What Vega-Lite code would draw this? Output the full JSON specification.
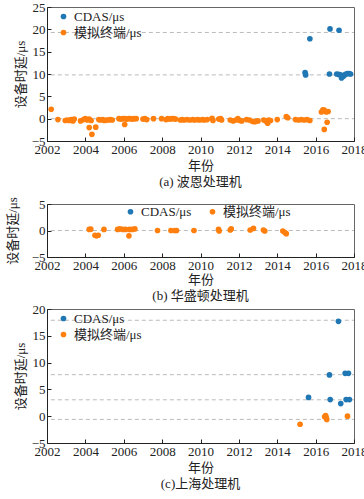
{
  "$schema": "https://vega.github.io/schema/vega-lite/v6.json",
  "background": "white",
  "padding": {"left": 5, "top": 0, "right": 3, "bottom": 5},
  "spacing": 6,
  "config": {
    "font": "Liberation Serif, Noto Serif CJK SC, Noto Sans CJK SC, serif",
    "view": {"stroke": "#666666", "strokeWidth": 1},
    "axis": {
      "labelFont": "Liberation Serif",
      "labelFontSize": 13,
      "labelColor": "#222222",
      "labelOverlap": false,
      "labelBound": false,
      "labelFlush": false,
      "titleFont": "Liberation Serif, Noto Sans CJK SC, serif",
      "titleFontSize": 13,
      "titleFontWeight": "normal",
      "titleColor": "#222222",
      "domainColor": "#222222",
      "tickColor": "#222222",
      "tickSize": -4,
      "labelPadding": 6,
      "grid": false
    },
    "legend": {
      "labelFont": "Liberation Serif, Noto Sans CJK SC, serif",
      "labelFontSize": 13,
      "labelColor": "#222222",
      "symbolType": "circle",
      "symbolSize": 32,
      "symbolStrokeWidth": 0,
      "title": null,
      "rowPadding": 2
    },
    "title": {
      "font": "Liberation Serif, Noto Sans CJK SC, serif",
      "fontSize": 13,
      "fontWeight": "normal",
      "color": "#222222",
      "orient": "bottom",
      "offset": 4
    }
  },
  "datasets": {
    "a": [
      {"year": 2002.22, "delay": 2.1, "series": "模拟终端/μs"},
      {"year": 2002.57, "delay": -0.2, "series": "模拟终端/μs"},
      {"year": 2002.95, "delay": -0.4, "series": "模拟终端/μs"},
      {"year": 2003.05, "delay": -0.3, "series": "模拟终端/μs"},
      {"year": 2003.15, "delay": -0.4, "series": "模拟终端/μs"},
      {"year": 2003.25, "delay": -0.2, "series": "模拟终端/μs"},
      {"year": 2003.35, "delay": -0.5, "series": "模拟终端/μs"},
      {"year": 2003.42, "delay": -0.1, "series": "模拟终端/μs"},
      {"year": 2003.75, "delay": -0.5, "series": "模拟终端/μs"},
      {"year": 2003.9, "delay": -0.2, "series": "模拟终端/μs"},
      {"year": 2004.0, "delay": 0.0, "series": "模拟终端/μs"},
      {"year": 2004.1, "delay": -0.3, "series": "模拟终端/μs"},
      {"year": 2004.2, "delay": -0.1, "series": "模拟终端/μs"},
      {"year": 2004.3, "delay": -0.4, "series": "模拟终端/μs"},
      {"year": 2004.2, "delay": -2.0, "series": "模拟终端/μs"},
      {"year": 2004.34, "delay": -3.5, "series": "模拟终端/μs"},
      {"year": 2004.54, "delay": -1.9, "series": "模拟终端/μs"},
      {"year": 2004.7, "delay": -0.2, "series": "模拟终端/μs"},
      {"year": 2004.8, "delay": -0.3, "series": "模拟终端/μs"},
      {"year": 2004.9, "delay": -0.2, "series": "模拟终端/μs"},
      {"year": 2005.0, "delay": -0.4, "series": "模拟终端/μs"},
      {"year": 2005.1, "delay": -0.3, "series": "模拟终端/μs"},
      {"year": 2005.2, "delay": -0.3, "series": "模拟终端/μs"},
      {"year": 2005.3, "delay": -0.2, "series": "模拟终端/μs"},
      {"year": 2005.4, "delay": -0.3, "series": "模拟终端/μs"},
      {"year": 2005.75, "delay": 0.0, "series": "模拟终端/μs"},
      {"year": 2005.85, "delay": -0.1, "series": "模拟终端/μs"},
      {"year": 2005.95, "delay": 0.0, "series": "模拟终端/μs"},
      {"year": 2006.05, "delay": -1.3, "series": "模拟终端/μs"},
      {"year": 2006.05, "delay": 0.0, "series": "模拟终端/μs"},
      {"year": 2006.15, "delay": -0.1, "series": "模拟终端/μs"},
      {"year": 2006.25, "delay": 0.0, "series": "模拟终端/μs"},
      {"year": 2006.35, "delay": 0.0, "series": "模拟终端/μs"},
      {"year": 2006.45, "delay": -0.1, "series": "模拟终端/μs"},
      {"year": 2006.55, "delay": 0.0, "series": "模拟终端/μs"},
      {"year": 2006.65, "delay": 0.0, "series": "模拟终端/μs"},
      {"year": 2007.0, "delay": -0.1, "series": "模拟终端/μs"},
      {"year": 2007.1, "delay": 0.0, "series": "模拟终端/μs"},
      {"year": 2007.2, "delay": -0.2, "series": "模拟终端/μs"},
      {"year": 2007.55, "delay": 0.0, "series": "模拟终端/μs"},
      {"year": 2007.97, "delay": 0.0, "series": "模拟终端/μs"},
      {"year": 2008.2, "delay": -0.2, "series": "模拟终端/μs"},
      {"year": 2008.3, "delay": 0.0, "series": "模拟终端/μs"},
      {"year": 2008.4, "delay": -0.1, "series": "模拟终端/μs"},
      {"year": 2008.5, "delay": 0.0, "series": "模拟终端/μs"},
      {"year": 2008.6, "delay": 0.0, "series": "模拟终端/μs"},
      {"year": 2008.7, "delay": -0.1, "series": "模拟终端/μs"},
      {"year": 2008.95, "delay": -0.3, "series": "模拟终端/μs"},
      {"year": 2009.05, "delay": -0.2, "series": "模拟终端/μs"},
      {"year": 2009.15, "delay": -0.3, "series": "模拟终端/μs"},
      {"year": 2009.3, "delay": -0.2, "series": "模拟终端/μs"},
      {"year": 2009.45, "delay": -0.3, "series": "模拟终端/μs"},
      {"year": 2009.6, "delay": -0.2, "series": "模拟终端/μs"},
      {"year": 2009.7, "delay": -0.3, "series": "模拟终端/μs"},
      {"year": 2009.85, "delay": -0.2, "series": "模拟终端/μs"},
      {"year": 2009.95, "delay": -0.3, "series": "模拟终端/μs"},
      {"year": 2010.1, "delay": -0.2, "series": "模拟终端/μs"},
      {"year": 2010.2, "delay": -0.3, "series": "模拟终端/μs"},
      {"year": 2010.35, "delay": -0.2, "series": "模拟终端/μs"},
      {"year": 2010.6, "delay": 0.1, "series": "模拟终端/μs"},
      {"year": 2010.65, "delay": -0.4, "series": "模拟终端/μs"},
      {"year": 2010.95, "delay": -0.1, "series": "模拟终端/μs"},
      {"year": 2011.05, "delay": 0.0, "series": "模拟终端/μs"},
      {"year": 2011.1, "delay": -0.3, "series": "模拟终端/μs"},
      {"year": 2011.55, "delay": -0.3, "series": "模拟终端/μs"},
      {"year": 2011.7, "delay": -0.5, "series": "模拟终端/μs"},
      {"year": 2011.85, "delay": -0.3, "series": "模拟终端/μs"},
      {"year": 2011.95, "delay": 0.0, "series": "模拟终端/μs"},
      {"year": 2012.05, "delay": -0.4, "series": "模拟终端/μs"},
      {"year": 2012.15, "delay": -0.5, "series": "模拟终端/μs"},
      {"year": 2012.4, "delay": -0.2, "series": "模拟终端/μs"},
      {"year": 2012.55, "delay": -0.3, "series": "模拟终端/μs"},
      {"year": 2012.7, "delay": -0.6, "series": "模拟终端/μs"},
      {"year": 2012.8, "delay": -0.7, "series": "模拟终端/μs"},
      {"year": 2012.9, "delay": -0.6, "series": "模拟终端/μs"},
      {"year": 2013.0, "delay": -0.5, "series": "模拟终端/μs"},
      {"year": 2013.3, "delay": -0.3, "series": "模拟终端/μs"},
      {"year": 2013.4, "delay": -0.5, "series": "模拟终端/μs"},
      {"year": 2013.5, "delay": -1.0, "series": "模拟终端/μs"},
      {"year": 2013.55, "delay": -0.3, "series": "模拟终端/μs"},
      {"year": 2013.65, "delay": -0.4, "series": "模拟终端/μs"},
      {"year": 2014.0, "delay": -0.2, "series": "模拟终端/μs"},
      {"year": 2014.47, "delay": 0.45, "series": "模拟终端/μs"},
      {"year": 2014.55, "delay": 0.2, "series": "模拟终端/μs"},
      {"year": 2014.95, "delay": -0.2, "series": "模拟终端/μs"},
      {"year": 2015.1, "delay": -0.3, "series": "模拟终端/μs"},
      {"year": 2015.25, "delay": -0.2, "series": "模拟终端/μs"},
      {"year": 2015.4, "delay": -0.3, "series": "模拟终端/μs"},
      {"year": 2015.55, "delay": -0.2, "series": "模拟终端/μs"},
      {"year": 2015.7, "delay": -0.4, "series": "模拟终端/μs"},
      {"year": 2016.3, "delay": 1.5, "series": "模拟终端/μs"},
      {"year": 2016.38, "delay": 2.0, "series": "模拟终端/μs"},
      {"year": 2016.45, "delay": 1.9, "series": "模拟终端/μs"},
      {"year": 2016.55, "delay": 1.5, "series": "模拟终端/μs"},
      {"year": 2016.65, "delay": 1.6, "series": "模拟终端/μs"},
      {"year": 2016.45, "delay": -2.4, "series": "模拟终端/μs"},
      {"year": 2016.6, "delay": -0.8, "series": "模拟终端/μs"},
      {"year": 2015.45, "delay": 10.3, "series": "CDAS/μs"},
      {"year": 2015.48, "delay": 9.8, "series": "CDAS/μs"},
      {"year": 2015.7, "delay": 17.9, "series": "CDAS/μs"},
      {"year": 2016.75, "delay": 20.1, "series": "CDAS/μs"},
      {"year": 2016.72, "delay": 10.0, "series": "CDAS/μs"},
      {"year": 2017.22, "delay": 19.8, "series": "CDAS/μs"},
      {"year": 2017.1, "delay": 10.0, "series": "CDAS/μs"},
      {"year": 2017.2, "delay": 9.9, "series": "CDAS/μs"},
      {"year": 2017.3, "delay": 9.8, "series": "CDAS/μs"},
      {"year": 2017.35, "delay": 9.1, "series": "CDAS/μs"},
      {"year": 2017.45, "delay": 9.5, "series": "CDAS/μs"},
      {"year": 2017.55, "delay": 9.9, "series": "CDAS/μs"},
      {"year": 2017.65, "delay": 10.1, "series": "CDAS/μs"},
      {"year": 2017.75, "delay": 10.1, "series": "CDAS/μs"},
      {"year": 2017.82, "delay": 10.0, "series": "CDAS/μs"}
    ],
    "b": [
      {"year": 2004.2, "delay": 0.2, "series": "模拟终端/μs"},
      {"year": 2004.28, "delay": 0.25, "series": "模拟终端/μs"},
      {"year": 2004.5, "delay": -0.9, "series": "模拟终端/μs"},
      {"year": 2004.58, "delay": -1.0, "series": "模拟终端/μs"},
      {"year": 2004.67, "delay": -0.9, "series": "模拟终端/μs"},
      {"year": 2004.97, "delay": 0.2, "series": "模拟终端/μs"},
      {"year": 2005.68, "delay": 0.2, "series": "模拟终端/μs"},
      {"year": 2005.8, "delay": 0.3, "series": "模拟终端/μs"},
      {"year": 2005.95, "delay": 0.2, "series": "模拟终端/μs"},
      {"year": 2006.1, "delay": 0.2, "series": "模拟终端/μs"},
      {"year": 2006.27, "delay": -1.0, "series": "模拟终端/μs"},
      {"year": 2006.3, "delay": 0.2, "series": "模拟终端/μs"},
      {"year": 2006.45, "delay": 0.2, "series": "模拟终端/μs"},
      {"year": 2006.58, "delay": 0.3, "series": "模拟终端/μs"},
      {"year": 2007.76, "delay": 0.0, "series": "模拟终端/μs"},
      {"year": 2008.46, "delay": 0.0, "series": "模拟终端/μs"},
      {"year": 2008.65, "delay": 0.0, "series": "模拟终端/μs"},
      {"year": 2008.75, "delay": 0.0, "series": "模拟终端/μs"},
      {"year": 2009.66, "delay": 0.0, "series": "模拟终端/μs"},
      {"year": 2010.94, "delay": 0.2, "series": "模拟终端/μs"},
      {"year": 2010.97, "delay": -0.1, "series": "模拟终端/μs"},
      {"year": 2011.55, "delay": 0.1, "series": "模拟终端/μs"},
      {"year": 2011.6, "delay": 0.3, "series": "模拟终端/μs"},
      {"year": 2012.59, "delay": 0.1, "series": "模拟终端/μs"},
      {"year": 2012.76, "delay": 0.4, "series": "模拟终端/μs"},
      {"year": 2013.28, "delay": 0.1, "series": "模拟终端/μs"},
      {"year": 2013.35, "delay": -0.1, "series": "模拟终端/μs"},
      {"year": 2014.29, "delay": -0.1, "series": "模拟终端/μs"},
      {"year": 2014.4, "delay": -0.4, "series": "模拟终端/μs"},
      {"year": 2014.47, "delay": -0.6, "series": "模拟终端/μs"}
    ],
    "c": [
      {"year": 2017.19, "delay": 17.7, "series": "CDAS/μs"},
      {"year": 2016.72, "delay": 7.7, "series": "CDAS/μs"},
      {"year": 2017.54, "delay": 8.0, "series": "CDAS/μs"},
      {"year": 2017.71, "delay": 8.0, "series": "CDAS/μs"},
      {"year": 2015.63, "delay": 3.5, "series": "CDAS/μs"},
      {"year": 2016.76, "delay": 3.1, "series": "CDAS/μs"},
      {"year": 2017.31, "delay": 2.35, "series": "CDAS/μs"},
      {"year": 2017.59, "delay": 3.1, "series": "CDAS/μs"},
      {"year": 2017.76, "delay": 3.1, "series": "CDAS/μs"},
      {"year": 2015.19, "delay": -1.5, "series": "模拟终端/μs"},
      {"year": 2016.47, "delay": -0.1, "series": "模拟终端/μs"},
      {"year": 2016.52, "delay": 0.1, "series": "模拟终端/μs"},
      {"year": 2016.55, "delay": -0.2, "series": "模拟终端/μs"},
      {"year": 2016.58, "delay": -0.6, "series": "模拟终端/μs"},
      {"year": 2017.66, "delay": 0.0, "series": "模拟终端/μs"}
    ],
    "ref_a": [
      {"year": 2002.2, "year2": 2018, "delay": 19.3},
      {"year": 2002.2, "year2": 2018, "delay": 9.8},
      {"year": 2002.2, "year2": 2018, "delay": 0.0}
    ],
    "ref_b": [
      {"year": 2002.2, "year2": 2018, "delay": 0.0}
    ],
    "ref_c": [
      {"year": 2002.2, "year2": 2018, "delay": 17.9},
      {"year": 2002.2, "year2": 2018, "delay": 7.75},
      {"year": 2002.2, "year2": 2018, "delay": 3.06},
      {"year": 2002.2, "year2": 2018, "delay": -0.6}
    ]
  },
  "vconcat": [
    {
      "width": 307,
      "height": 134,
      "title": {"text": "(a) 波恩处理机"},
      "encoding": {
        "x": {"field": "year", "type": "quantitative", "scale": {"domain": [2002, 2018], "nice": false},
              "axis": {"values": [2002, 2004, 2006, 2008, 2010, 2012, 2014, 2016, 2018], "format": "d", "title": "年份", "titlePadding": 3, "labelOverlap": false}},
        "y": {"field": "delay", "type": "quantitative", "scale": {"domain": [-5, 25], "nice": false},
              "axis": {"values": [-5, 0, 5, 10, 15, 20, 25], "title": "设备时延/μs", "titlePadding": 4, "labelOverlap": false}}
      },
      "layer": [
        {
          "data": {"name": "ref_a"},
          "mark": {"type": "rule", "color": "#bbbbbb", "strokeDash": [4, 3], "strokeWidth": 1},
          "encoding": {"x2": {"field": "year2"}}
        },
        {
          "data": {"name": "a"},
          "mark": {"type": "circle", "size": 32, "opacity": 1},
          "encoding": {
            "color": {"field": "series", "type": "nominal",
                      "scale": {"domain": ["CDAS/μs", "模拟终端/μs"], "range": ["#1f77b4", "#ff7f0e"]},
                      "legend": {"orient": "none", "legendX": 10, "legendY": 3, "direction": "vertical"}}
          }
        }
      ]
    },
    {
      "spacing": -2,
      "vconcat": [
        {
          "width": 307,
          "height": 53,
          "title": {"text": "(b) 华盛顿处理机"},
          "encoding": {
            "x": {"field": "year", "type": "quantitative", "scale": {"domain": [2002, 2018], "nice": false},
                  "axis": {"values": [2002, 2004, 2006, 2008, 2010, 2012, 2014, 2016, 2018], "format": "d", "title": "年份", "titlePadding": 1, "labelOverlap": false}},
            "y": {"field": "delay", "type": "quantitative", "scale": {"domain": [-5, 5], "nice": false},
                  "axis": {"values": [-5, 0, 5], "title": "设备时延/μs", "titlePadding": 12, "labelOverlap": false}}
          },
          "layer": [
            {
              "data": {"name": "ref_b"},
              "mark": {"type": "rule", "color": "#bbbbbb", "strokeDash": [4, 3], "strokeWidth": 1},
              "encoding": {"x2": {"field": "year2"}}
            },
            {
              "data": {"name": "b"},
              "mark": {"type": "circle", "size": 32, "opacity": 1},
              "encoding": {
                "color": {"field": "series", "type": "nominal",
                          "scale": {"domain": ["CDAS/μs", "模拟终端/μs"], "range": ["#1f77b4", "#ff7f0e"]},
                          "legend": {"orient": "none", "legendX": 77, "legendY": 1, "direction": "horizontal", "columnPadding": 14}}
              }
            }
          ]
        },
        {
          "width": 307,
          "height": 134,
          "title": {"text": "(c)上海处理机"},
          "encoding": {
            "x": {"field": "year", "type": "quantitative", "scale": {"domain": [2002, 2018], "nice": false},
                  "axis": {"values": [2002, 2004, 2006, 2008, 2010, 2012, 2014, 2016, 2018], "format": "d", "title": "年份", "titlePadding": 3, "labelOverlap": false}},
            "y": {"field": "delay", "type": "quantitative", "scale": {"domain": [-5, 20], "nice": false},
                  "axis": {"values": [-5, 0, 5, 10, 15, 20], "title": "设备时延/μs", "titlePadding": 4, "labelOverlap": false}}
          },
          "layer": [
            {
              "data": {"name": "ref_c"},
              "mark": {"type": "rule", "color": "#bbbbbb", "strokeDash": [4, 3], "strokeWidth": 1},
              "encoding": {"x2": {"field": "year2"}}
            },
            {
              "data": {"name": "c"},
              "mark": {"type": "circle", "size": 32, "opacity": 1},
              "encoding": {
                "color": {"field": "series", "type": "nominal",
                          "scale": {"domain": ["CDAS/μs", "模拟终端/μs"], "range": ["#1f77b4", "#ff7f0e"]},
                          "legend": {"orient": "none", "legendX": 10, "legendY": 3, "direction": "vertical"}}
              }
            }
          ]
        }
      ],
      "resolve": {"scale": {"color": "independent", "y": "independent", "x": "independent"}, "legend": {"color": "independent"}}
    }
  ],
  "resolve": {"scale": {"color": "independent", "y": "independent", "x": "independent"}, "legend": {"color": "independent"}}
}
